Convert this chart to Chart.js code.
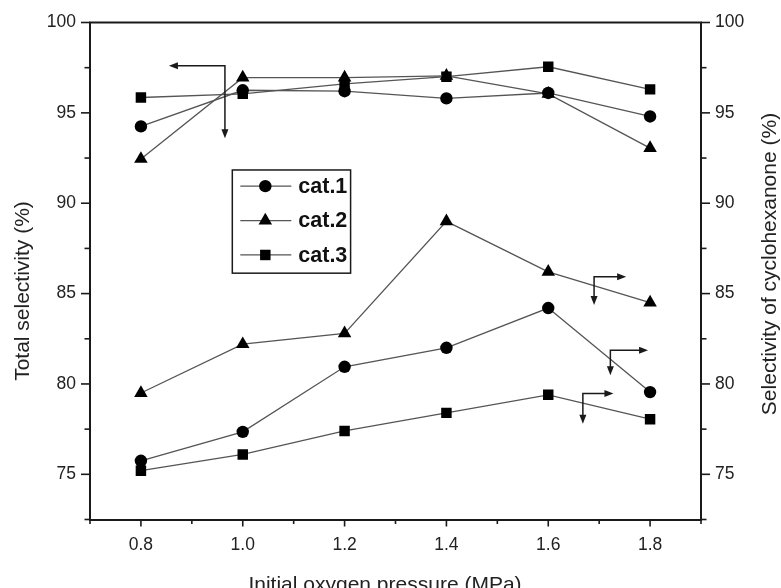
<!DOCTYPE html>
<html><head><meta charset="utf-8">
<script src="https://cdn.jsdelivr.net/npm/chart.js@4/dist/chart.umd.min.js"></script>
<style>html,body{margin:0;padding:0;background:#fff}canvas{display:block}</style>
</head><body>
<canvas id="c" width="781" height="588"></canvas>
<script>
// ---- data ----
const pressure = [0.8, 1.0, 1.2, 1.4, 1.6, 1.8];
const totalCat1 = [94.25, 96.25, 96.2, 95.8, 96.1, 94.8];
const totalCat2 = [92.45, 96.95, 96.95, 97.05, 96.05, 93.05];
const totalCat3 = [95.85, 96.05, 96.6, 97.0, 97.55, 96.3];
const cycloCat1 = [75.75, 77.35, 80.95, 82.0, 84.2, 79.55];
const cycloCat2 = [79.5, 82.2, 82.8, 89.0, 86.2, 84.5];
const cycloCat3 = [75.2, 76.1, 77.4, 78.4, 79.4, 78.05];
const seriesNames = ['cat.1', 'cat.2', 'cat.3'];
const xTitle = 'Initial oxygen pressure (MPa)';
const yLeftTitle = 'Total selectivity (%)';
const yRightTitle = 'Selectivity of cyclohexanone (%)';
// arrow annotations (data coords): corner, end of horizontal arm, end of vertical arm
const arrowCornerX = [0.965, 1.69, 1.722, 1.668];
const arrowCornerY = [97.6, 85.93, 81.86, 79.47];
const arrowHorizEnd = [0.855, 1.753, 1.796, 1.728];
const arrowVertEnd = [93.6, 84.37, 80.48, 77.8];

const FONT = "'Liberation Sans', Arial, Helvetica, sans-serif";
const INK = '#1a1a1a';
const styles = ['circle', 'triangle', 'rect'];
const radii = {circle: 6.2, triangle: 7.8, rect: 7.4};

function pts(ys) { return pressure.map((x, i) => ({x: x, y: ys[i]})); }
function ds(label, ys, k, axis, legend) {
  const st = styles[k];
  return {
    label: label, data: pts(ys), yAxisID: axis,
    borderColor: '#555555', borderWidth: 1.3, backgroundColor: '#000',
    pointBackgroundColor: '#000', pointBorderColor: '#000', pointBorderWidth: 0,
    pointStyle: st, pointRadius: radii[st], pointHoverRadius: radii[st],
    tension: 0, fill: false, inLegendBox: legend
  };
}

const datasets = [
  ds(seriesNames[0], totalCat1, 0, 'y', true),
  ds(seriesNames[1], totalCat2, 1, 'y', true),
  ds(seriesNames[2], totalCat3, 2, 'y', true),
  ds(seriesNames[0], cycloCat1, 0, 'y2', false),
  ds(seriesNames[1], cycloCat2, 1, 'y2', false),
  ds(seriesNames[2], cycloCat3, 2, 'y2', false)
];

function drawMarker(ctx, style, r, x, y) {
  ctx.beginPath();
  if (style === 'circle') {
    ctx.arc(x, y, r, 0, Math.PI * 2);
  } else if (style === 'triangle') {
    for (let i = 0; i < 3; i++) {
      const a = i * 2 * Math.PI / 3;
      const px = x + Math.sin(a) * r, py = y - Math.cos(a) * r;
      if (i === 0) ctx.moveTo(px, py); else ctx.lineTo(px, py);
    }
    ctx.closePath();
  } else {
    const s = Math.SQRT1_2 * r;
    ctx.rect(x - s, y - s, 2 * s, 2 * s);
  }
  ctx.fill();
}

const framePlugin = {
  id: 'frame',
  afterDraw(chart) {
    const {ctx, chartArea: a, scales} = chart;
    ctx.save();
    ctx.strokeStyle = INK; ctx.lineWidth = 1.8;
    ctx.beginPath(); ctx.moveTo(a.left - 1, a.top); ctx.lineTo(a.right + 1, a.top); ctx.stroke();
    ctx.lineWidth = 1.6;
    const sx = scales.x;
    sx.ticks.forEach(t => {
      const p = sx.getPixelForValue(t.value);
      const len = t.label !== '' ? 7 : 4.5;
      ctx.beginPath(); ctx.moveTo(p, a.bottom); ctx.lineTo(p, a.bottom + len); ctx.stroke();
    });
    [['y', -1], ['y2', 1]].forEach(([id, dir]) => {
      const s = scales[id];
      const x0 = dir < 0 ? a.left : a.right;
      s.ticks.forEach(t => {
        const p = s.getPixelForValue(t.value);
        const len = t.label !== '' ? 9 : 5.5;
        ctx.beginPath(); ctx.moveTo(x0, p); ctx.lineTo(x0 + dir * len, p); ctx.stroke();
      });
    });
    // arrows
    const yS = scales.y;
    ctx.lineWidth = 1.5; ctx.fillStyle = INK;
    for (let i = 0; i < arrowCornerX.length; i++) {
      const cx = sx.getPixelForValue(arrowCornerX[i]);
      const cy = yS.getPixelForValue(arrowCornerY[i]);
      const hx = sx.getPixelForValue(arrowHorizEnd[i]);
      const vy = yS.getPixelForValue(arrowVertEnd[i]);
      const hd = hx > cx ? 1 : -1;
      ctx.beginPath(); ctx.moveTo(cx, vy - 7); ctx.lineTo(cx, cy); ctx.lineTo(hx - hd * 7, cy); ctx.stroke();
      ctx.beginPath(); ctx.moveTo(hx, cy); ctx.lineTo(hx - hd * 9, cy - 3.5); ctx.lineTo(hx - hd * 9, cy + 3.5); ctx.closePath(); ctx.fill();
      ctx.beginPath(); ctx.moveTo(cx, vy); ctx.lineTo(cx - 3.5, vy - 9); ctx.lineTo(cx + 3.5, vy - 9); ctx.closePath(); ctx.fill();
    }
    // legend box
    const lx = sx.getPixelForValue(0.9795), rx = sx.getPixelForValue(1.2118);
    const ty = yS.getPixelForValue(91.84), by = yS.getPixelForValue(86.13);
    ctx.lineWidth = 1.5; ctx.strokeStyle = INK;
    ctx.strokeRect(lx, ty, rx - lx, by - ty);
    const items = chart.data.datasets.filter(d => d.inLegendBox);
    const rowH = (by - ty) / items.length;
    ctx.font = 'bold 21.5px ' + FONT;
    ctx.textBaseline = 'middle'; ctx.textAlign = 'left';
    items.forEach((d, i) => {
      const yy = ty + rowH * (i + 0.5) - 1;
      ctx.strokeStyle = '#555555'; ctx.lineWidth = 1.3;
      ctx.beginPath(); ctx.moveTo(lx + 8, yy); ctx.lineTo(lx + 59, yy); ctx.stroke();
      ctx.fillStyle = '#000';
      drawMarker(ctx, d.pointStyle, d.pointRadius, lx + 33, yy);
      ctx.fillStyle = '#111';
      ctx.fillText(d.label, lx + 66, yy + 1);
    });
    // axis titles
    ctx.fillStyle = '#222';
    ctx.font = '21px ' + FONT;
    ctx.textAlign = 'center'; ctx.textBaseline = 'alphabetic';
    ctx.fillText(xTitle, 385, 591);
    ctx.save(); ctx.translate(29, 291); ctx.rotate(-Math.PI / 2); ctx.fillText(yLeftTitle, 0, 0); ctx.restore();
    ctx.save(); ctx.translate(776, 264); ctx.rotate(-Math.PI / 2); ctx.fillText(yRightTitle, 0, 0); ctx.restore();
    ctx.restore();
  }
};

const yTickCb = v => (Math.abs(v % 5) < 1e-6 ? String(Math.round(v)) : '');
const yScale = (pos) => ({
  type: 'linear', position: pos, min: 72.5, max: 100,
  grid: {drawOnChartArea: false, color: 'rgba(0,0,0,0)', tickLength: 9},
  border: {display: true, color: INK, width: 2},
  ticks: {stepSize: 2.5, autoSkip: false, callback: yTickCb, color: '#222', padding: 5, font: {family: FONT, size: 17.5}},
  afterFit: s => { s.width = pos === 'left' ? 90 : 80; }
});

new Chart(document.getElementById('c'), {
  type: 'line',
  data: {datasets: datasets},
  options: {
    responsive: false, animation: false, devicePixelRatio: 1,
    layout: {padding: {top: 22.5, left: 0, right: 0, bottom: 0}},
    plugins: {legend: {display: false}, tooltip: {enabled: false}},
    scales: {
      x: {
        type: 'linear', min: 0.7, max: 1.9,
        grid: {drawOnChartArea: false, color: 'rgba(0,0,0,0)', tickLength: 7},
        border: {display: true, color: INK, width: 2},
        ticks: {stepSize: 0.1, autoSkip: false, maxRotation: 0, color: '#222', padding: 8, font: {family: FONT, size: 17.5},
          callback: v => { const k = Math.round(v * 10); return (k % 2 === 0 && k >= 8 && k <= 18) ? (k / 10).toFixed(1) : ''; }},
        afterFit: s => { s.height = 68.5; }
      },
      y: yScale('left'),
      y2: yScale('right')
    }
  },
  plugins: [framePlugin]
});
</script>
</body></html>
